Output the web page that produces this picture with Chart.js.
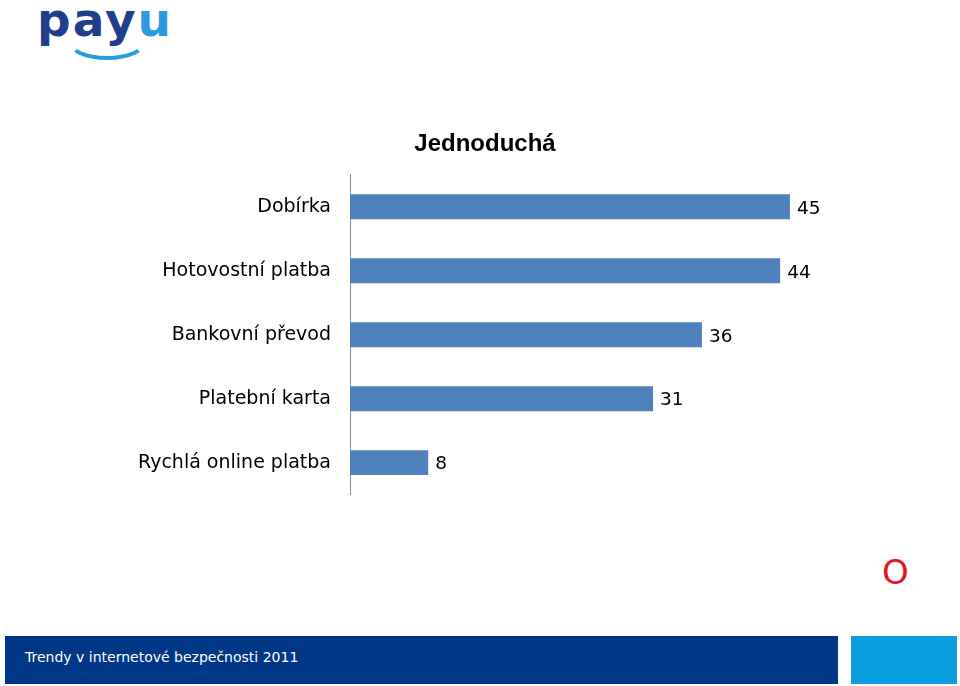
<!DOCTYPE html>
<html>
<head>
<meta charset="utf-8">
<script src="https://cdn.jsdelivr.net/npm/chart.js@4/dist/chart.umd.min.js"></script>
<style>
  html, body { margin: 0; padding: 0; background: #fff; }
  body { width: 960px; height: 686px; position: relative; overflow: hidden; }
  #logo { position: absolute; left: 37px; top: -10px; font-family: "DejaVu Sans"; font-weight: bold;
          font-size: 47px; letter-spacing: 2px; line-height: 60px; }
  #logo .a { color: #1f3e8c; }
  #logo .b { color: #2a9be0; }
  #smile { position: absolute; left: 66px; top: 20px; width: 74px; height: 32px;
           border: 4px solid transparent; border-bottom-color: #2a9be0; border-radius: 50%; }
  #wrap { position: absolute; left: 0; top: 120px; width: 960px; height: 405px; }
  #mark { position: absolute; left: 882px; top: 552px; color: #e8141c; font-family: "DejaVu Sans";
          font-size: 34px; }
  #foot { position: absolute; left: 5px; top: 636px; width: 833px; height: 48px; background: #003787; }
  #foot span { position: absolute; left: 20px; top: 13px; color: #fff; font-family: "DejaVu Sans"; font-size: 14px; }
  #box { position: absolute; left: 851px; top: 636px; width: 106px; height: 48px; background: #0a9de0; }
</style>
</head>
<body>
<div id="logo"><span class="a">pay</span><span class="b">u</span></div>
<div id="smile"></div>
<div id="wrap"><canvas id="chart-0"></canvas></div>
<div id="mark">O</div>
<div id="foot"><span>Trendy v internetové bezpečnosti 2011</span></div>
<div id="box"></div>
<script>
var categories = ["Dobírka", "Hotovostní platba", "Bankovní převod", "Platební karta", "Rychlá online platba"];
var values = [45, 44, 36, 31, 8];
var chartTitle = "Jednoduchá";

var valueLabels = {
    id: 'valueLabels',
    afterDatasetsDraw: function(chart) {
        var ctx = chart.ctx;
        var meta = chart.getDatasetMeta(0);
        ctx.save();
        ctx.font = '18.5px "DejaVu Sans"';
        ctx.fillStyle = '#000';
        ctx.textAlign = 'left';
        ctx.textBaseline = 'middle';
        meta.data.forEach(function(bar, i) {
            ctx.fillText(String(values[i]), bar.x + 7, bar.y + 2);
        });
        ctx.restore();
    }
};

window.onload = function() {
    var ctx = document.getElementById("chart-0").getContext("2d");
    new Chart(ctx, {
        type: 'bar',
        data: {
            labels: categories,
            datasets: [{
                data: values,
                backgroundColor: "rgb(79, 129, 189)",
                borderWidth: 0,
                categoryPercentage: 1,
                barPercentage: 0.39
            }]
        },
        options: {
            indexAxis: 'y',
            responsive: true,
            maintainAspectRatio: false,
            animation: false,
            layout: { padding: { left: 10, right: 0, top: 0, bottom: 0 } },
            plugins: {
                legend: { display: false },
                tooltip: { enabled: false },
                title: {
                    display: true,
                    text: chartTitle,
                    color: '#000',
                    font: { family: '"Liberation Sans"', size: 24, weight: 'bold' },
                    padding: { top: 10, bottom: 16 }
                }
            },
            scales: {
                x: { display: false, min: 0, max: 62.4 },
                y: {
                    afterFit: function(scale) { scale.width = 340; },
                    grid: { display: false, drawTicks: false },
                    border: { display: true, color: '#8c8c8c', width: 1 },
                    ticks: {
                        color: '#000',
                        padding: 19,
                        font: { family: '"DejaVu Sans"', size: 19 }
                    }
                }
            }
        },
        plugins: [valueLabels]
    });
};
</script>
</body>
</html>
